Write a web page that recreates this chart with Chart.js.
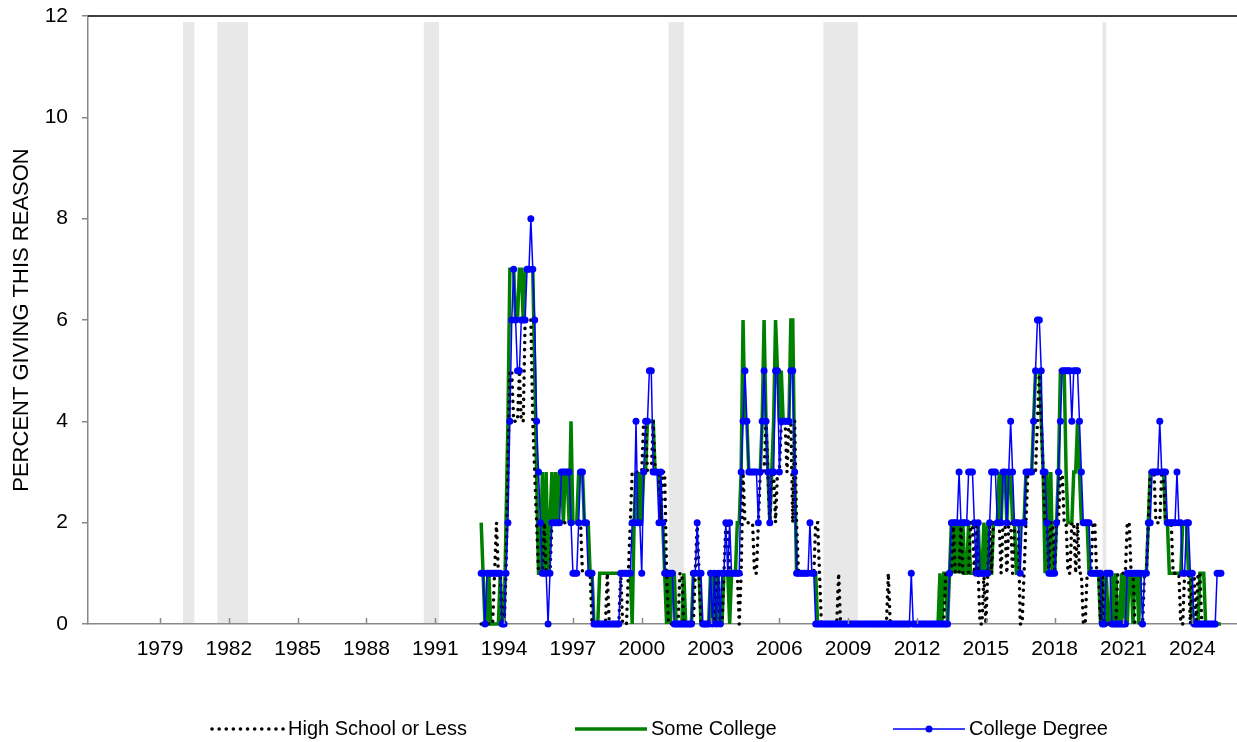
<!DOCTYPE html>
<html>
<head>
<meta charset="utf-8">
<title>Percent giving this reason</title>
<script src="https://cdn.jsdelivr.net/npm/chart.js"></script>
<style>
  html, body { margin:0; padding:0; background:#fff; }
  #wrap { position:relative; width:1237px; height:742px; }
</style>
</head>
<body>
<div id="wrap"><canvas id="chart" width="1237" height="742"></canvas></div>
<script>
// monthly series, first value = Jan 1993
var startYear = 1993;

var hsLess = [
  0,0,0,0,0,0,0,1,2,1,1,0, // 1993
  0,1,3,5,5,4,4,4,5,4,4,6,
  6,6,6,4,3,2,1,1,1,2,1,1, // 1995
  1,2,2,2,2,2,2,2,2,2,2,2,
  2,2,2,2,2,1,1,1,1,1,0,0, // 1997
  0,0,0,0,0,0,1,0,0,0,0,0,
  0,1,0,0,0,1,2,3,3,3,3,3, // 1999
  3,4,4,3,3,3,4,3,3,3,2,3,
  3,1,0,0,0,0,0,0,1,1,0,0, // 2001
  0,0,0,0,1,2,1,0,0,0,0,0,
  0,0,0,1,1,0,0,1,2,2,1,1, // 2003
  1,1,1,0,1,3,2,2,2,2,2,1,
  1,2,3,3,3,4,3,2,3,3,2,3, // 2005
  3,4,4,4,3,4,4,2,4,2,1,1,
  1,1,1,1,1,1,1,2,2,1,0,0, // 2007
  0,0,0,0,0,0,0,1,0,0,0,0,
  0,0,0,0,0,0,0,0,0,0,0,0, // 2009
  0,0,0,0,0,0,0,0,0,1,0,0,
  0,0,0,0,0,0,0,0,0,0,0,0, // 2011
  0,0,0,0,0,0,0,0,0,0,0,0,
  0,0,0,1,1,1,1,2,1,1,1,2, // 2013
  1,1,1,1,2,2,1,2,1,0,0,1,
  0,1,2,1,2,2,2,2,1,2,2,1, // 2015
  2,2,1,2,2,2,0,0,1,2,3,3,
  3,3,3,4,5,4,3,2,2,1,2,2, // 2017
  1,2,2,3,3,2,2,1,1,2,2,1,
  2,1,1,0,0,1,1,1,2,2,1,1, // 2019
  0,1,0,0,0,0,0,0,0,1,1,1,
  1,1,2,2,1,1,0,0,0,0,0,1, // 2021
  1,2,3,3,3,2,2,2,3,3,2,2,
  2,2,1,1,1,1,0,0,1,1,1,0, // 2023
  1,1,0,1,1,0,0,0,0,0,0,0,
  0,0,0,0                  // 2025
];

var someCollege = [
  2,1,0,0,1,0,0,0,0,0,1,0, // 1993
  0,2,4,7,7,7,6,6,7,7,6,7,
  7,7,7,7,5,3,1,1,3,1,3,1, // 1995
  2,3,2,3,2,3,3,2,3,3,2,4,
  2,2,2,3,3,3,2,2,2,1,1,0, // 1997
  0,0,1,1,1,1,1,1,1,1,1,1,
  1,1,1,1,1,1,1,0,2,3,2,3, // 1999
  2,3,3,4,4,4,4,3,3,3,2,2,
  1,0,1,0,1,1,0,0,0,0,1,0, // 2001
  0,0,0,1,1,1,1,0,0,0,0,0,
  1,0,1,0,1,0,0,1,1,1,0,1, // 2003
  1,1,2,2,3,6,4,4,3,3,3,3,
  3,3,3,4,6,4,3,2,3,4,6,5, // 2005
  4,5,4,4,4,4,6,6,3,1,1,1,
  1,1,1,1,1,1,1,1,0,0,0,0, // 2007
  0,0,0,0,0,0,0,0,0,0,0,0,
  0,0,0,0,0,0,0,0,0,0,0,0, // 2009
  0,0,0,0,0,0,0,0,0,0,0,0,
  0,0,0,0,0,0,0,0,0,0,0,0, // 2011
  0,0,0,0,0,0,0,0,0,0,0,0,
  1,0,1,1,0,1,2,1,2,1,2,1, // 2013
  2,1,1,2,1,1,1,1,2,1,1,2,
  1,2,1,1,2,2,2,3,2,3,3,2, // 2015
  3,3,2,2,1,1,2,2,2,3,3,3,
  3,4,5,5,5,4,3,1,3,1,3,1, // 2017
  1,2,3,5,5,5,3,2,2,2,3,3,
  4,3,2,2,2,2,1,1,1,1,1,1, // 2019
  0,1,0,1,0,0,1,0,1,0,0,1,
  0,1,0,1,1,0,1,1,0,1,1,1, // 2021
  1,2,3,3,3,3,3,3,3,3,2,2,
  1,1,1,1,1,1,1,2,2,2,1,1, // 2023
  0,0,0,0,1,1,1,0,0,0,0,0,
  0,0,0,0                  // 2025
];

var collegeDeg = [
  1,1,0,1,1,1,1,1,1,1,1,0, // 1993
  0,1,2,4,6,7,6,5,5,6,6,6,
  7,7,8,7,6,4,3,2,1,1,1,0, // 1995
  1,2,2,2,2,2,3,3,3,3,3,2,
  1,1,1,2,3,3,2,2,1,1,1,0, // 1997
  0,0,0,0,0,0,0,0,0,0,0,0,
  0,1,1,1,1,1,1,2,2,4,2,2, // 1999
  1,3,4,4,5,5,3,3,3,2,3,2,
  1,1,1,1,1,0,0,0,0,0,0,0, // 2001
  0,0,0,1,1,2,1,1,0,0,0,0,
  1,0,1,0,1,0,1,1,2,1,2,1, // 2003
  1,1,1,1,3,4,5,4,3,3,3,3,
  3,2,3,4,5,4,3,2,3,3,5,5, // 2005
  3,4,4,4,4,4,5,5,3,1,1,1,
  1,1,1,1,2,1,1,0,0,0,0,0, // 2007
  0,0,0,0,0,0,0,0,0,0,0,0,
  0,0,0,0,0,0,0,0,0,0,0,0, // 2009
  0,0,0,0,0,0,0,0,0,0,0,0,
  0,0,0,0,0,0,0,0,0,1,0,0, // 2011
  0,0,0,0,0,0,0,0,0,0,0,0,
  0,0,0,0,0,1,2,2,2,2,3,2, // 2013
  2,2,2,3,3,3,2,1,2,1,1,1,
  1,1,2,3,3,3,2,2,2,3,3,2, // 2015
  3,4,3,2,2,2,1,2,2,3,3,3,
  3,4,5,6,6,5,3,3,2,1,1,1, // 2017
  1,2,3,4,5,5,5,5,5,4,5,5,
  5,4,3,2,2,2,2,1,1,1,1,1, // 2019
  1,0,0,1,1,1,0,0,0,0,0,0,
  0,0,1,1,1,1,1,1,1,1,0,1, // 2021
  1,2,2,3,3,3,3,4,3,3,3,2,
  2,2,2,2,3,2,2,1,1,2,2,1, // 2023
  1,0,0,0,0,0,0,0,0,0,0,0,
  0,1,1,1                  // 2025
];

var tickYears = [1979,1982,1985,1988,1991,1994,1997,2000,2003,2006,2009,2012,2015,2018,2021,2024];
var yTicks = [0,2,4,6,8,10,12];

// recessions (start / end, decimal years)
var recStart = [1980, 1981+6/12, 1990+6/12, 2001+2/12, 2007+11/12, 2020+1/12];
var recEnd   = [1980+6/12, 1982+10/12, 1991+2/12, 2001+10/12, 2009+5/12, 2020+3/12];
var recTop = 11.88;

function toPoints(arr){
  var pts = [];
  for(var i=0;i<arr.length;i++) pts.push({x: startYear + i/12, y: arr[i]});
  return pts;
}

var FONT = 'Liberation Sans, Arial, sans-serif';

var recessionPlugin = {
  id: 'recessions',
  beforeDraw: function(chart){
    var c = chart.ctx, xs = chart.scales.x, ys = chart.scales.y;
    c.save();
    c.fillStyle = '#e8e8e8';
    for(var i=0;i<recStart.length;i++){
      var x0 = xs.getPixelForValue(recStart[i]), x1 = xs.getPixelForValue(recEnd[i]);
      var yT = ys.getPixelForValue(recTop), yB = ys.getPixelForValue(0);
      c.fillRect(x0, yT, x1-x0, yB-yT);
    }
    c.restore();
  }
};

var framePlugin = {
  id: 'frame',
  afterDraw: function(chart){
    var c = chart.ctx, a = chart.chartArea, xs = chart.scales.x;
    c.save();
    // top border
    c.strokeStyle = '#000';
    c.lineWidth = 1.5;
    c.beginPath(); c.moveTo(a.left, a.top); c.lineTo(a.right, a.top); c.stroke();
    // x tick marks, pointing up inside the plot
    c.strokeStyle = '#888';
    c.lineWidth = 1.5;
    xs.ticks.forEach(function(t){
      var px = Math.round(xs.getPixelForValue(t.value)) + 0.5;
      c.beginPath(); c.moveTo(px, a.bottom); c.lineTo(px, a.bottom-6); c.stroke();
    });
    c.restore();
  }
};

var legendPlugin = {
  id: 'bottomLegend',
  afterDraw: function(chart){
    var c = chart.ctx, y = 729;
    var items = [{ds:0, x:212}, {ds:1, x:575}, {ds:2, x:893}];
    c.save();
    items.forEach(function(it){
      var ds = chart.data.datasets[it.ds];
      c.strokeStyle = ds.borderColor;
      c.lineWidth = ds.borderWidth;
      c.lineCap = ds.borderCapStyle || 'butt';
      c.setLineDash(ds.borderDash || []);
      c.beginPath(); c.moveTo(it.x, y); c.lineTo(it.x+72, y); c.stroke();
      c.setLineDash([]);
      if(ds.pointRadius){
        c.fillStyle = ds.pointBackgroundColor;
        c.beginPath(); c.arc(it.x+36, y, ds.pointRadius, 0, Math.PI*2); c.fill();
      }
      c.fillStyle = '#000';
      c.font = '20px ' + FONT;
      c.textBaseline = 'middle';
      c.textAlign = 'left';
      c.fillText(ds.label, it.x+76, y);
    });
    c.restore();
  }
};

var ctx = document.getElementById('chart').getContext('2d');
new Chart(ctx, {
  type: 'line',
  data: {
    datasets: [
      { label:'High School or Less', data: toPoints(hsLess), borderColor:'#000000', borderWidth:3.5,
        borderDash:[0.1,7], borderCapStyle:'round', pointRadius:0, tension:0, order:1, clip:false },
      { label:'Some College', data: toPoints(someCollege), borderColor:'#008000', borderWidth:3.5,
        pointRadius:0, tension:0, order:2, clip:false },
      { label:'College Degree', data: toPoints(collegeDeg), borderColor:'#0000ff', borderWidth:1.5,
        pointRadius:3.5, pointBackgroundColor:'#0000ff', pointBorderColor:'#0000ff', pointBorderWidth:0,
        tension:0, order:0, clip:false }
    ]
  },
  options: {
    responsive: false,
    animation: false,
    events: [],
    layout: { autoPadding:false, padding: { top:16, right:0, left:0, bottom:0 } },
    plugins: { legend: { display:false }, tooltip: { enabled:false } },
    scales: {
      x: {
        type: 'linear', min: 1975.86, max: 2025.95,
        afterBuildTicks: function(s){ s.ticks = tickYears.map(function(v){ return {value:v}; }); },
        afterFit: function(s){ s.height = 118; s.paddingLeft = 0; s.paddingRight = 0; },
        ticks: { autoSkip:false, maxRotation:0, padding:13, color:'#000',
                 font:{ family:FONT, size:21 }, callback:function(v){ return String(v); } },
        grid: { drawOnChartArea:false, drawTicks:false },
        border: { color:'#888', width:1.5 }
      },
      y: {
        min: 0, max: 12,
        afterBuildTicks: function(s){ s.ticks = yTicks.map(function(v){ return {value:v}; }); },
        afterFit: function(s){ s.width = 88; s.paddingTop = 0; s.paddingBottom = 0; },
        ticks: { padding:14, color:'#000', font:{ family:FONT, size:21 } },
        grid: { drawOnChartArea:false, drawTicks:true, tickLength:6, color:'#888', lineWidth:1.5 },
        border: { color:'#888', width:1.5 },
        title: { display:true, text:'PERCENT GIVING THIS REASON', color:'#000',
                 font:{ family:FONT, size:22 }, padding:{ top:9, bottom:0 } }
      }
    }
  },
  plugins: [recessionPlugin, framePlugin, legendPlugin]
});
</script>
</body>
</html>
